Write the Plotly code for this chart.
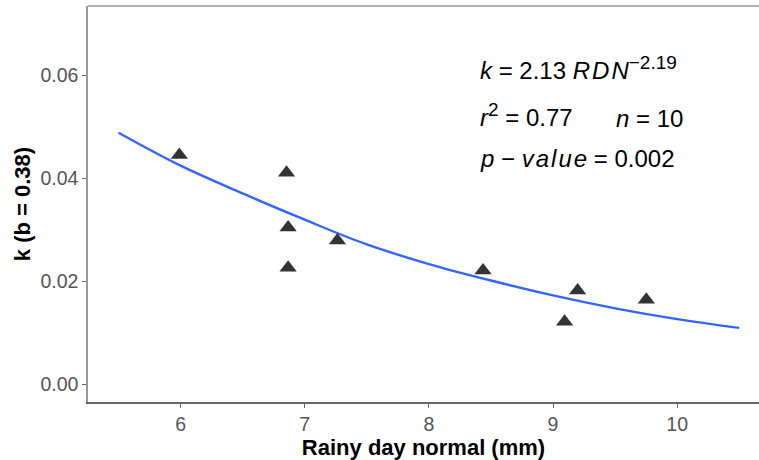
import plotly.graph_objects as go

rdn = [5.99, 6.853, 6.866, 6.866, 7.263, 8.436, 9.093, 9.198, 9.751]
k_obs = [0.04446, 0.04101, 0.03040, 0.02258, 0.02788, 0.02206, 0.01209, 0.01818, 0.01635]

# Fitted curve
fit_x = [5.5, 6.0, 6.5, 7.0, 7.5, 8.0, 8.5, 9.0, 9.5, 10.0, 10.5]
fit_y = [0.0488, 0.0424, 0.0370, 0.0319, 0.0271, 0.0233, 0.0201, 0.0172, 0.0147, 0.0126, 0.0109]

x_ticks = [6, 7, 8, 9, 10]
y_ticks = [0.00, 0.02, 0.04, 0.06]
y_tick_labels = ["0.00", "0.02", "0.04", "0.06"]

FONT = "Liberation Sans, Arial, Helvetica, sans-serif"
HS = "\u200a"  # hair space for plotmath-like italic letter spacing

fig = go.Figure()
fig.add_trace(go.Scatter(
    x=fit_x, y=fit_y, mode="lines",
    line=dict(color="#3366FF", width=2.4, shape="spline", smoothing=1.0),
    hoverinfo="skip", showlegend=False,
))
fig.add_trace(go.Scatter(
    x=rdn, y=k_obs, mode="markers",
    marker=dict(symbol="triangle-up", size=15, color="#333333", line=dict(width=0)),
    showlegend=False,
))

ann_font = dict(family=FONT, size=24, color="black")
annotations = [
    dict(x=8.397, y=0.0614, xref="x", yref="y", xanchor="left", yanchor="middle",
         text="<i>k</i> = 2.13 <i>" + HS.join("RDN") + "</i><sup><span style='font-size:19px'>−2.19</span></sup>",
         showarrow=False, font=ann_font),
    dict(x=8.397, y=0.0522, xref="x", yref="y", xanchor="left", yanchor="middle",
         text="<i>r</i><sup><span style='font-size:19px'>2</span></sup> = 0.77", showarrow=False, font=ann_font),
    dict(x=9.49, y=0.0515, xref="x", yref="y", xanchor="left", yanchor="middle",
         text="<i>n</i> = 10", showarrow=False, font=ann_font),
    dict(x=8.397, y=0.0437, xref="x", yref="y", xanchor="left", yanchor="middle",
         text="<i>p</i> − <i>" + HS.join("value") + "</i> = 0.002", showarrow=False, font=ann_font),
]

fig.update_layout(
    width=759, height=460,
    margin=dict(l=88, r=0, t=6, b=58),
    paper_bgcolor="white", plot_bgcolor="white",
    font=dict(family=FONT),
    annotations=annotations,
    shapes=[dict(type="line", xref="paper", yref="paper", x0=0, x1=1, y0=1, y1=1,
                 line=dict(color="#999999", width=1.4))],
)
fig.update_xaxes(
    range=[5.254, 10.659], tickvals=x_ticks, showgrid=False, zeroline=False,
    showline=True, linecolor="#666666", linewidth=1.5,
    ticks="outside", ticklen=4, tickcolor="#666666", tickwidth=1,
    tickfont=dict(family=FONT, size=19.5, color="#555555"),
    title=dict(text="<b>Rainy day normal (mm)</b>", font=dict(family=FONT, size=22, color="black"), standoff=4),
)
fig.update_yaxes(
    range=[-0.00349, 0.0734], tickvals=y_ticks, ticktext=y_tick_labels, showgrid=False, zeroline=False,
    showline=True, linecolor="#999999", linewidth=1.5,
    ticks="outside", ticklen=4, tickcolor="#666666", tickwidth=1,
    tickfont=dict(family=FONT, size=19.5, color="#555555"),
    title=dict(text="<b>k (b = 0.38)</b>", font=dict(family=FONT, size=22, color="black"), standoff=4),
)

fig.write_html("out.html")
